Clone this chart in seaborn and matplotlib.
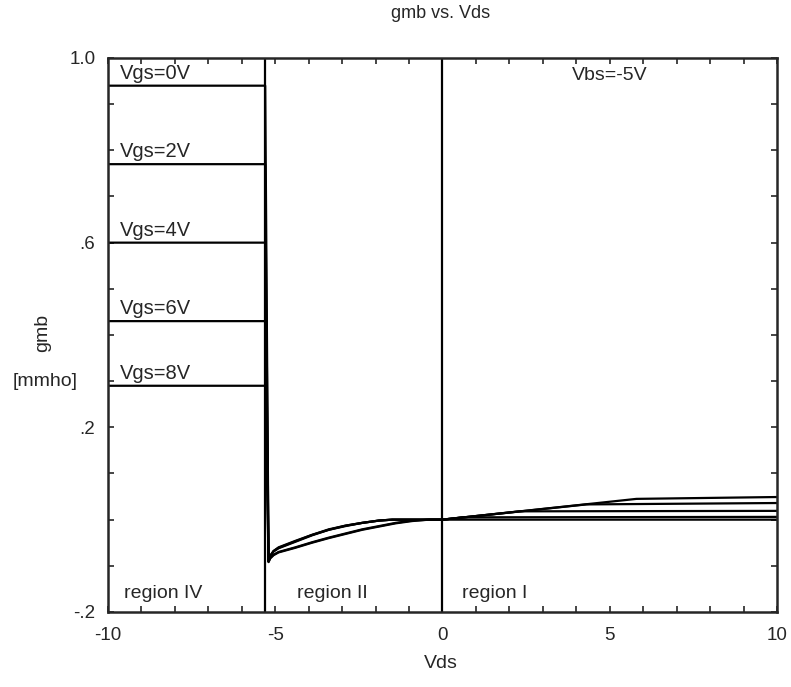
import numpy as np
import pandas as pd
import matplotlib
matplotlib.use("Agg")
import matplotlib.pyplot as plt
import seaborn as sns

# curve data (Vds in V, gmb in mmho)
vgs_labels = ["Vgs=0V", "Vgs=2V", "Vgs=4V", "Vgs=6V", "Vgs=8V"]
vgs_levels = [0.94, 0.77, 0.60, 0.43, 0.29]

vds_0 = [-10, -5.3, -5.2, -5.15, -5.05, -4.9, -4.65, -4.4, -3.9, -3.4, -2.9, -2.4, -1.9, -1.4, -0.9, -0.4, 0, 5.8, 10]
gmb_0 = [0.94, 0.94, -0.092, -0.084, -0.077, -0.071, -0.066, -0.061, -0.050, -0.040, -0.031, -0.022, -0.015, -0.008, -0.003, 0.0, 0.0, 0.045, 0.049]
vds_2 = [-10, -5.3, -5.2, -5.15, -5.05, -4.9, -4.65, -4.4, -3.9, -3.4, -2.9, -2.4, -1.9, -1.4, -0.9, -0.4, 0, 4.3, 10]
gmb_2 = [0.77, 0.77, -0.091, -0.083, -0.076, -0.070, -0.065, -0.060, -0.049, -0.039, -0.030, -0.021, -0.014, -0.007, -0.002, 0.0, 0.0, 0.033, 0.036]
vds_4 = [-10, -5.3, -5.2, -5.15, -5.05, -4.9, -4.65, -4.4, -3.9, -3.4, -2.9, -2.4, -1.9, -1.5, 0, 2.3, 10]
gmb_4 = [0.60, 0.60, -0.090, -0.080, -0.069, -0.062, -0.055, -0.048, -0.034, -0.022, -0.014, -0.007, -0.002, 0.0, 0.0, 0.018, 0.019]
vds_6 = [-10, -5.3, -5.2, -5.15, -5.05, -4.9, -4.65, -4.4, -3.9, -3.4, -2.9, -2.4, -1.9, -1.5, 0, 0.6, 10]
gmb_6 = [0.43, 0.43, -0.089, -0.079, -0.068, -0.061, -0.054, -0.047, -0.033, -0.022, -0.013, -0.007, -0.002, 0.0, 0.0, 0.005, 0.006]
vds_8 = [-10, -5.3, -5.2, -5.15, -5.05, -4.9, -4.65, -4.4, -3.9, -3.4, -2.9, -2.4, -1.9, -1.5, 0, 10]
gmb_8 = [0.29, 0.29, -0.088, -0.078, -0.068, -0.060, -0.053, -0.046, -0.033, -0.021, -0.013, -0.007, -0.002, 0.0, 0.0, 0.0]

region_bounds = [-5.3, 0]
region_names = ["region IV", "region II", "region I"]
region_x = [-8.35, -3.3, 1.55]

x_ticks = [-10, -5, 0, 5, 10]
y_ticks = [-0.2, 0.2, 0.6, 1.0]
y_ticklabels = ["-.2", ".2", ".6", "1.0"]

curves = [(vds_0, gmb_0), (vds_2, gmb_2), (vds_4, gmb_4), (vds_6, gmb_6), (vds_8, gmb_8)]
frames = []
for lab, (xs, ys) in zip(vgs_labels, curves):
    frames.append(pd.DataFrame({"Vds": xs, "gmb": ys, "Vgs": lab}))
df = pd.concat(frames, ignore_index=True)

sns.set_style("ticks")
plt.rcParams["font.family"] = ["Liberation Sans", "DejaVu Sans"]
plt.rcParams["axes.unicode_minus"] = False

fig = plt.figure(figsize=(7.91, 6.87), dpi=100)
ax = fig.add_axes([0.1365, 0.1092, 0.8458, 0.8064])

sns.lineplot(data=df, x="Vds", y="gmb", hue="Vgs", palette=["black"] * 5,
             estimator=None, sort=False, legend=False, linewidth=1.6, ax=ax)

for b in region_bounds:
    ax.axvline(b, color="black", linewidth=1.6)

for lab, lev in zip(vgs_labels, vgs_levels):
    ax.text(-9.63, lev + 0.006, lab, fontsize=14.5, ha="left", va="bottom")

for name, xp in zip(region_names, region_x):
    ax.text(xp, -0.16, name, fontsize=14, ha="center", va="center")

ax.text(5.0, 0.963, "Vbs=-5V", fontsize=14, ha="center", va="center")

ax.set_xlim(-10, 10)
ax.set_ylim(-0.2, 1.0)
ax.set_xticks(x_ticks)
ax.set_xticks(np.arange(-10, 11, 1), minor=True)
ax.set_yticks(y_ticks)
ax.set_yticklabels(y_ticklabels)
ax.set_yticks(np.arange(-0.2, 1.01, 0.1), minor=True)
ax.tick_params(which="both", direction="in", top=True, right=True, length=4,
               width=1.2, labelsize=13.5)
ax.tick_params(axis="x", pad=11)
ax.tick_params(axis="y", pad=9)
for s in ax.spines.values():
    s.set_linewidth(1.8)

ax.set_xlabel("")
ax.set_ylabel("")
fig.text(441 / 791, 1 - 13 / 687, "gmb vs. Vds", fontsize=13, ha="center", va="center")
fig.text(441 / 791, 1 - 664 / 687, "Vds", fontsize=14, ha="center", va="center")
fig.text(43 / 791, 1 - 333 / 687, "gmb", fontsize=14, rotation=90, ha="center", va="center")
fig.text(45 / 791, 1 - 382 / 687, "[mmho]", fontsize=14, ha="center", va="center")

fig.savefig("out.png", dpi=100)
